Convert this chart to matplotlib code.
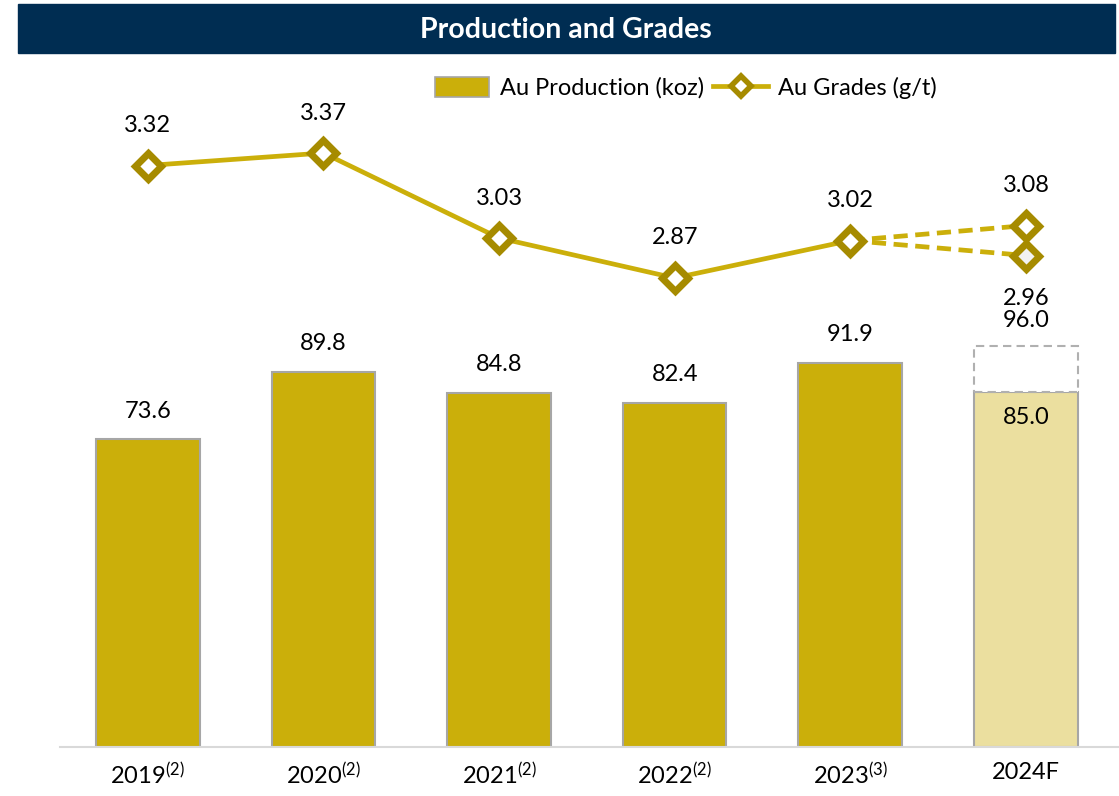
import numpy as np
import matplotlib.pyplot as plt
from matplotlib.patches import Rectangle
from matplotlib.lines import Line2D

plt.rcParams['font.family'] = ['Lato', 'DejaVu Sans']
plt.rcParams['mathtext.fontset'] = 'custom'
plt.rcParams['mathtext.rm'] = 'Lato'
plt.rcParams['mathtext.it'] = 'Lato'

# data
years = ['2019$^{(2)}$', '2020$^{(2)}$', '2021$^{(2)}$', '2022$^{(2)}$', '2023$^{(3)}$', '2024F']
production = [73.6, 89.8, 84.8, 82.4, 91.9, 85.0]
production_2024_high = 96.0
grades = [3.32, 3.37, 3.03, 2.87, 3.02]
grades_2024 = [3.08, 2.96]

gold = '#CBAF0A'
gold_light = '#EBDF9F'
gold_dark = '#A68B00'
navy = '#002D52'
fs = 17

fig = plt.figure(figsize=(11.19, 7.96), dpi=100)

# title bar
fig.patches.append(Rectangle((18 / 1119, 1 - 53 / 796), (1115 - 18) / 1119, 49 / 796,
                             transform=fig.transFigure, color=navy, zorder=0))
fig.text(566 / 1119, 1 - 30 / 796, 'Production and Grades', ha='center', va='center',
         color='white', fontsize=20.5, fontweight='bold')

ax = fig.add_axes([60 / 1119, 49 / 796, 1 - 60 / 1119, 647 / 796])
x = np.arange(len(years))

colors = [gold] * 5 + [gold_light]
ax.bar(x, production, width=0.59, color=colors, edgecolor='#A6A6A6', linewidth=1.5, zorder=2)
# forecast upper range
ax.bar(x[-1], production_2024_high - production[-1], bottom=production[-1], width=0.59,
       color='white', edgecolor='#B0B0B0', linewidth=1.5, linestyle=(0, (4, 2.5)), zorder=2)

for i, v in enumerate(production[:-1]):
    ax.text(x[i], v + 6.7, f'{v:.1f}', ha='center', va='center', fontsize=fs)
ax.text(x[-1], production[-1] - 6.2, f'{production[-1]:.1f}', ha='center', va='center', fontsize=fs)
ax.text(x[-1], production_2024_high + 6.0, f'{production_2024_high:.1f}', ha='center', va='center', fontsize=fs)

ax.set_xlim(-0.5, 5.53)
ax.set_ylim(0, 647 / 4.18)
ax.set_yticks([])
ax.set_xticks(x)
ax.set_xticklabels(years, fontsize=fs)
ax.tick_params(axis='x', length=0, pad=11)
for s in ['top', 'right', 'left']:
    ax.spines[s].set_visible(False)
ax.spines['bottom'].set_color('#D9D9D9')
ax.spines['bottom'].set_linewidth(1.5)

ax2 = ax.twinx()
g0 = 2.87 - 469 / 250
ax2.set_ylim(g0, g0 + 647 / 250)
ax2.set_yticks([])
for s in ax2.spines.values():
    s.set_visible(False)

mk = dict(marker='D', markersize=13.5, markeredgewidth=5, markeredgecolor=gold_dark)
ax2.plot(x[:5], grades, color=gold, lw=3.4, markerfacecolor='white', zorder=3, **mk)
ax2.plot([x[4], x[5]], [grades[-1], grades_2024[0]], color=gold, lw=3.4, ls=(0, (3, 1.6)), zorder=2)
ax2.plot([x[4], x[5]], [grades[-1], grades_2024[1]], color=gold, lw=3.4, ls=(0, (3, 1.6)), zorder=2)
ax2.plot([x[5]], [grades_2024[1]], lw=0, markerfacecolor='#F2F2F2', zorder=3, **mk)
ax2.plot([x[5]], [grades_2024[0]], lw=0, markerfacecolor='white', zorder=4, **mk)

for i, g in enumerate(grades):
    ax2.text(x[i], g + 0.16, f'{g:.2f}', ha='center', va='center', fontsize=fs)
ax2.text(x[5], grades_2024[0] + 0.16, f'{grades_2024[0]:.2f}', ha='center', va='center', fontsize=fs)
ax2.text(x[5], grades_2024[1] - 0.172, f'{grades_2024[1]:.2f}', ha='center', va='center', fontsize=fs)

handles = [Rectangle((0, 0), 1, 1, facecolor=gold, edgecolor='#A6A6A6', linewidth=1.2),
           Line2D([], [], color=gold, lw=3.4, marker='D', markersize=10, markeredgewidth=4,
                  markeredgecolor=gold_dark, markerfacecolor='white')]
fig.legend(handles, ['Au Production (koz)', 'Au Grades (g/t)'], loc='center',
           bbox_to_anchor=(686 / 1119, 1 - 88 / 796), ncol=2, frameon=False, fontsize=fs,
           handlelength=2.3, handleheight=0.9, handletextpad=0.45, columnspacing=0.4)

fig.savefig('out.png', dpi=100)
